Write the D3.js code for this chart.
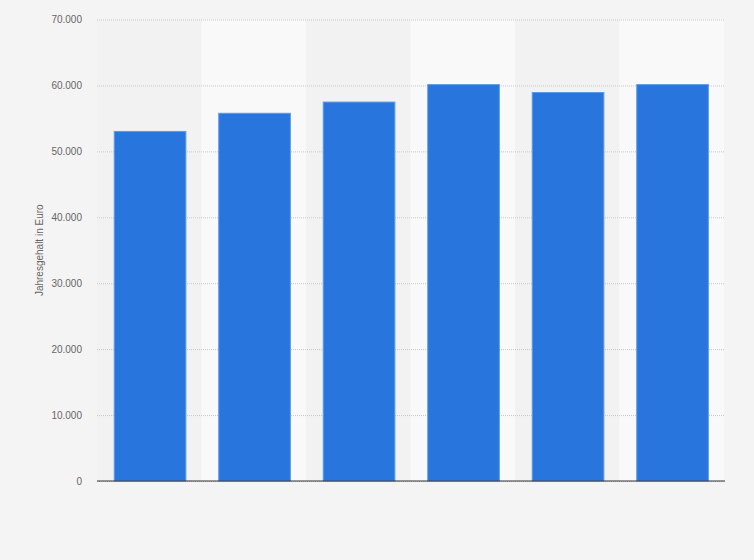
<!DOCTYPE html>
<html>
<head>
<meta charset="utf-8">
<script src="https://cdn.jsdelivr.net/npm/d3@7"></script>
<style>
  body { margin: 0; background: #f4f4f4; }
  #chart { width: 754px; height: 560px; }
  text { font-family: Arial, "Liberation Sans", sans-serif; }
</style>
</head>
<body>
<div id="chart"></div>
<script>
// Bars, no category labels are shown
const categories = ["1", "2", "3", "4", "5", "6"];
const salaries = [53100, 55850, 57550, 60200, 59000, 60200];
const y_ticks = [0, 10000, 20000, 30000, 40000, 50000, 60000, 70000];
const y_title = "Jahresgehalt in Euro";

function salary_chart() {
    const width = 754, height = 560;
    const left = 97, right = 724, top = 19.5, bottom = 481;

    const svg = d3.select("#chart").append("svg")
        .attr("width", width)
        .attr("height", height);

    svg.append("rect")
        .attr("width", width).attr("height", height)
        .attr("fill", "#f4f4f4");

    const bands = d3.scaleBand().domain(categories).range([left, right]).padding(0);
    const x = d3.scaleBand().domain(categories).range([left + 0.8, right + 0.8])
        .paddingInner(0.305).paddingOuter(0.1525);
    const y = d3.scaleLinear().domain([0, 70000]).range([bottom, top]);

    // alternating column shading
    svg.selectAll("rect.band")
        .data(categories)
        .enter().append("rect")
        .attr("class", "band")
        .attr("x", d => bands(d))
        .attr("y", top)
        .attr("width", bands.bandwidth())
        .attr("height", bottom - top)
        .attr("fill", (d, i) => i % 2 ? "#f9f9f9" : "#f2f2f2");

    const fmt = d3.formatLocale({ decimal: ",", thousands: ".", grouping: [3], currency: ["", " €"] }).format(",");

    const yAxis = svg.append("g")
        .attr("transform", "translate(" + left + ",0)")
        .call(d3.axisLeft(y).tickValues(y_ticks).tickFormat(fmt)
            .tickSize(-(right - left + 1)).tickPadding(15));
    yAxis.select(".domain").remove();
    yAxis.selectAll(".tick line")
        .attr("stroke", "#c8c8c8")
        .attr("stroke-dasharray", "1,1");
    yAxis.selectAll(".tick text")
        .attr("fill", "#666")
        .style("font-size", "10px");

    svg.append("text")
        .attr("transform", "translate(43," + ((top + bottom) / 2) + ") rotate(-90)")
        .attr("text-anchor", "middle")
        .attr("fill", "#666")
        .style("font-size", "10px")
        .text(y_title);

    svg.selectAll("rect.bar")
        .data(salaries)
        .enter().append("rect")
        .attr("class", "bar")
        .attr("x", (d, i) => x(categories[i]) + 0.5)
        .attr("y", d => y(d) + 0.5)
        .attr("width", x.bandwidth() - 1)
        .attr("height", d => bottom - y(d) - 0.5)
        .attr("fill", "#2876dd")
        .attr("stroke", "#5b9ae8")
        .attr("stroke-width", 1);

    svg.append("line")
        .attr("x1", left).attr("x2", right + 1)
        .attr("y1", bottom).attr("y2", bottom)
        .attr("stroke", "#333")
        .attr("stroke-width", 1.2);
}

salary_chart();
</script>
</body>
</html>
